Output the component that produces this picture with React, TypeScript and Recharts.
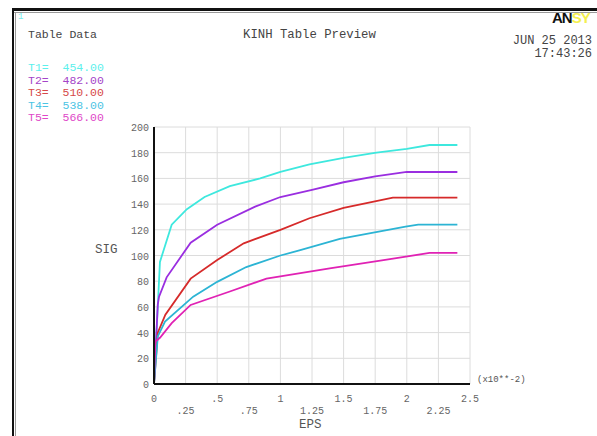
import { LineChart, Line, XAxis, YAxis, CartesianGrid } from 'recharts'

// strain (x10**-2) / stress pairs per temperature
const t1Eps = [0, 0.047, 0.14, 0.26, 0.4, 0.6, 0.84, 1.0, 1.23, 1.5, 1.76, 2.0, 2.18, 2.4]
const t1Sig = [0, 95, 124, 136, 145.5, 154, 160, 165, 171, 176, 180, 183, 186, 186]

const t2Eps = [0, 0.03, 0.04, 0.1, 0.29, 0.5, 0.8, 1.0, 1.25, 1.5, 1.75, 2.0, 2.4]
const t2Sig = [0, 62, 68, 83, 110, 124, 138, 145.5, 151, 157, 161.5, 165, 165]

const t3Eps = [0, 0.03, 0.09, 0.29, 0.5, 0.71, 1.0, 1.23, 1.5, 1.89, 2.4]
const t3Sig = [0, 40, 54, 82, 96.5, 109.5, 120, 129, 137, 145, 145]

const t4Eps = [0, 0.03, 0.087, 0.31, 0.5, 0.73, 1.0, 1.15, 1.47, 1.99, 2.09, 2.4]
const t4Sig = [0, 37, 48.5, 68, 79.5, 91, 100, 104, 113, 122.4, 124, 124]

const t5Eps = [0, 0.01, 0.047, 0.14, 0.29, 0.6, 0.89, 1.39, 1.79, 2.18, 2.4]
const t5Sig = [0, 33, 36, 47.3, 61.5, 72, 82, 90, 96, 102, 102]

const temps = ['454.00', '482.00', '510.00', '538.00', '566.00']
const xTicks = [0, 0.25, 0.5, 0.75, 1, 1.25, 1.5, 1.75, 2, 2.25, 2.5]
const xTickLabels = ['0', '.25', '.5', '.75', '1', '1.25', '1.5', '1.75', '2', '2.25', '2.5']
const yTicks = [0, 20, 40, 60, 80, 100, 120, 140, 160, 180, 200]

const lineColors = ['#3ee8de', '#9a2ee0', '#d62a2a', '#2cb4d4', '#e022b4']
const labelColors = ['#5cf0ec', '#a444c8', '#d64848', '#4cc4e4', '#e048c8']

const pairs = (xs: number[], ys: number[]) => xs.map((x, i) => ({ eps: x, sig: ys[i] }))
const series = [
  pairs(t1Eps, t1Sig),
  pairs(t2Eps, t2Sig),
  pairs(t3Eps, t3Sig),
  pairs(t4Eps, t4Sig),
  pairs(t5Eps, t5Sig),
]

const mono = '"Liberation Mono", "DejaVu Sans Mono", monospace'

function XTick(props: any) {
  const { x, y, payload, index } = props
  const i = xTicks.indexOf(payload.value)
  const k = i >= 0 ? i : index
  const low = k % 2 === 1
  return (
    <text x={x} y={y} dy={low ? 22 : 10} textAnchor="middle" fontSize={10} fontFamily={mono} fill="#666">
      {xTickLabels[k]}
    </text>
  )
}

function YTick(props: any) {
  const { x, y, payload } = props
  return (
    <text x={x + 3} y={y} dy={4} textAnchor="end" fontSize={10} fontFamily={mono} fill="#666">
      {payload.value}
    </text>
  )
}

export default function App() {
  return (
    <div
      style={{
        position: 'absolute',
        left: 0,
        top: 0,
        width: 597,
        height: 436,
        background: '#fff',
        overflow: 'hidden',
        fontFamily: mono,
      }}
    >
      {/* window frame */}
      <div style={{ position: 'absolute', left: 12, top: 8, width: 585, height: 3, background: '#111' }} />
      <div style={{ position: 'absolute', left: 12, top: 12, width: 585, height: 1, background: '#999' }} />
      <div style={{ position: 'absolute', left: 12, top: 8, width: 2, height: 428, background: '#111' }} />
      <div style={{ position: 'absolute', left: 15, top: 12, width: 1, height: 424, background: '#999' }} />

      <div style={{ position: 'absolute', left: 18, top: 12, fontSize: 9, color: '#7ee' }}>1</div>
      <div style={{ position: 'absolute', left: 28, top: 28, fontSize: 11.5, color: '#444' }}>Table Data</div>
      <div style={{ position: 'absolute', left: 243, top: 28, fontSize: 12.3, color: '#444' }}>KINH Table Preview</div>
      <div
        style={{
          position: 'absolute',
          left: 552,
          top: 9,
          fontSize: 15,
          fontWeight: 'bold',
          fontFamily: '"Liberation Sans", Arial, sans-serif',
          letterSpacing: -1,
          whiteSpace: 'nowrap',
        }}
      >
        <span style={{ color: '#111' }}>AN</span>
        <span style={{ color: '#f4f050' }}>SY</span>
      </div>
      <div style={{ position: 'absolute', right: 5, top: 35, fontSize: 12, color: '#444', textAlign: 'right', lineHeight: '13px' }}>
        JUN 25 2013
        <br />
        17:43:26
      </div>

      {temps.map((t, i) => (
        <div
          key={t}
          style={{
            position: 'absolute',
            left: 28,
            top: 61 + i * 12.5,
            fontSize: 11.5,
            color: labelColors[i],
            whiteSpace: 'pre',
          }}
        >
          {`T${i + 1}=  ${t}`}
        </div>
      ))}

      <div style={{ position: 'absolute', left: 95, top: 243, fontSize: 12.5, color: '#555' }}>SIG</div>
      <div style={{ position: 'absolute', left: 299, top: 418, fontSize: 12.5, color: '#555' }}>EPS</div>
      <div style={{ position: 'absolute', left: 477, top: 375, fontSize: 9, color: '#555' }}>(x10**-2)</div>

      <div style={{ position: 'absolute', left: 0, top: 0 }}>
        <LineChart width={597} height={436} margin={{ top: 127, right: 127, bottom: 12, left: 120 }}>
          <CartesianGrid stroke="#dcdcdc" strokeWidth={1} />
          <XAxis
            type="number"
            dataKey="eps"
            domain={[0, 2.5]}
            ticks={xTicks}
            interval={0}
            height={40}
            tickLine={false}
            axisLine={{ stroke: '#111', strokeWidth: 2 }}
            tick={<XTick />}
            allowDataOverflow
          />
          <YAxis
            type="number"
            dataKey="sig"
            domain={[0, 200]}
            ticks={yTicks}
            interval={0}
            width={34}
            tickLine={false}
            axisLine={{ stroke: '#111', strokeWidth: 2 }}
            tick={<YTick />}
          />
          {series.map((d, i) => (
            <Line
              key={i}
              data={d}
              dataKey="sig"
              type="linear"
              stroke={lineColors[i]}
              strokeWidth={1.8}
              dot={false}
              isAnimationActive={false}
            />
          ))}
        </LineChart>
      </div>
    </div>
  )
}
